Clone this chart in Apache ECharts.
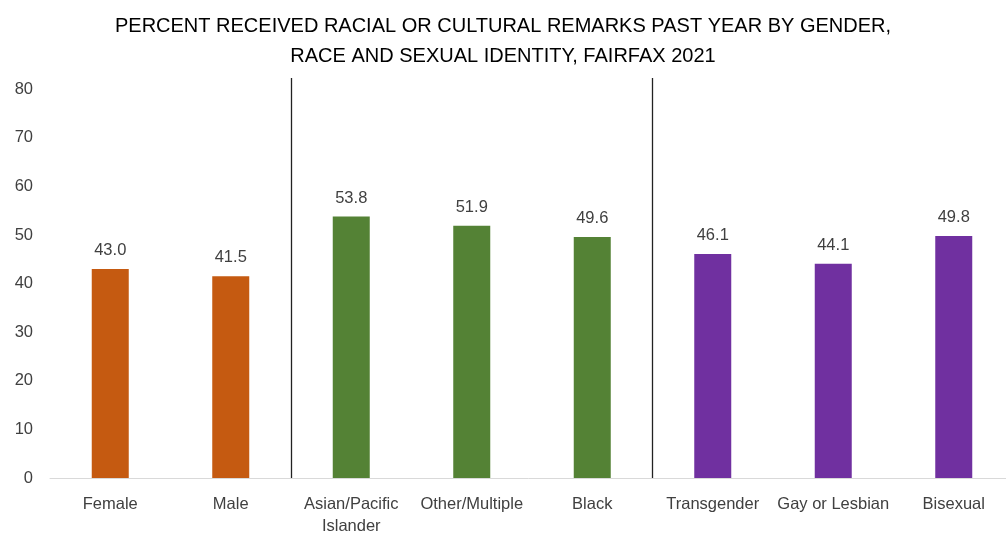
<!DOCTYPE html>
<html><head><meta charset="utf-8">
<script src="https://cdn.jsdelivr.net/npm/echarts@6/dist/echarts.min.js"></script>
<style>html,body{margin:0;padding:0;background:#fff;overflow:hidden}#c{width:1006px;height:533px}</style>
</head><body><div id="c"></div>
<script>
const categories = ['Female','Male','Asian/Pacific\nIslander','Other/Multiple','Black','Transgender','Gay or Lesbian','Bisexual'];
const values = [43.0, 41.5, 53.8, 51.9, 49.6, 46.1, 44.1, 49.8];
const groupColors = ['#C55A11','#C55A11','#548235','#548235','#548235','#7030A0','#7030A0','#7030A0'];
const separatorsAfter = [1, 4];
const yTicks = [0,10,20,30,40,50,60,70,80];
const titleText = 'PERCENT RECEIVED RACIAL OR CULTURAL REMARKS PAST YEAR BY GENDER,\nRACE AND SEXUAL IDENTITY, FAIRFAX 2021';
const font = 'Liberation Sans, Arial, sans-serif';

const chart = echarts.init(document.getElementById('c'), null, {renderer:'canvas'});
chart.setOption({
  animation:false,
  title:{text:titleText,left:'center',top:6,textStyle:{fontFamily:font,fontWeight:'normal',fontSize:20,color:'#000',lineHeight:30}},
  grid:{left:50,width:964,top:78,bottom:55,containLabel:false,outerBoundsMode:'none'},
  xAxis:{type:'category',data:categories,boundaryGap:true,
    axisLine:{lineStyle:{color:'#d9d9d9',width:1}},axisTick:{show:false},
    axisLabel:{fontFamily:font,fontSize:16.5,color:'#404040',margin:15,lineHeight:22,interval:0},
    splitLine:{show:true,interval:function(i){return separatorsAfter.indexOf(i-1)>=0;},lineStyle:{color:'#222',width:1.3}}},
  yAxis:{type:'value',min:0,max:82.3,interval:10,
    axisLine:{show:false},axisTick:{show:false},splitLine:{show:false},
    axisLabel:{fontFamily:font,fontSize:16.5,color:'#404040',margin:17,showMaxLabel:false,
      formatter:function(v){return yTicks.indexOf(v)>=0?String(v):'';}}},
  series:[{type:'bar',data:values.map((v,i)=>({value:v,itemStyle:{color:groupColors[i]}})),
    barWidth:37,
    label:{show:true,position:'top',distance:10,fontFamily:font,fontSize:16.5,color:'#404040',formatter:p=>p.value.toFixed(1)}}]
});
</script></body></html>
